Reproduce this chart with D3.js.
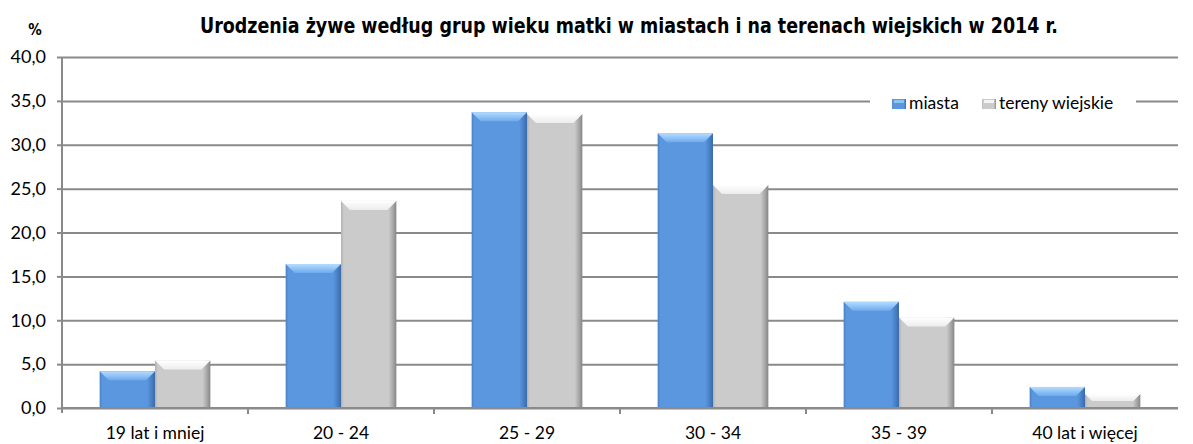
<!DOCTYPE html>
<html>
<head>
<meta charset="utf-8">
<script src="https://cdn.jsdelivr.net/npm/d3@7"></script>
<style>
  body { margin: 0; background: #fff; }
  svg { display: block; }
</style>
</head>
<body>
<script>
// chart data
var categories = ["19 lat i mniej", "20 - 24", "25 - 29", "30 - 34", "35 - 39", "40 lat i więcej"];
var seriesNames = ["miasta", "tereny wiejskie"];
var miasta = [4.2, 16.4, 33.7, 31.3, 12.1, 2.4];
var tereny = [5.4, 23.6, 33.5, 25.4, 10.3, 1.6];
var yTicks = [0, 5, 10, 15, 20, 25, 30, 35, 40];

var width = 1193, height = 444;
// plot area (note: "top" is reserved on window, so use other names)
var plotLeft = 62, plotRight = 1178, plotTop = 57, plotBottom = 408;
var labelFont = "Lato, 'Open Sans', sans-serif";

var svg = d3.select("body").append("svg")
  .attr("width", width)
  .attr("height", height);

var defs = svg.append("defs");

// bar gradients (fake 3d bevel)
function hGrad(id, stops) {
  var g = defs.append("linearGradient").attr("id", id)
    .attr("x1", "0").attr("x2", "1").attr("y1", "0").attr("y2", "0");
  stops.forEach(function(s) {
    g.append("stop").attr("offset", s[0]).attr("stop-color", s[1]);
  });
}
hGrad("blueBody", [[0, "#4a80c4"], [0.05, "#5b97de"], [0.86, "#5b97de"], [0.93, "#4a82c8"], [1, "#3a6aa8"]]);
hGrad("grayBody", [[0, "#b0b0b0"], [0.05, "#cbcbcb"], [0.86, "#cbcbcb"], [0.93, "#ababab"], [1, "#868686"]]);
var vb = defs.append("linearGradient").attr("id", "blueTop").attr("x1", 0).attr("x2", 0).attr("y1", 0).attr("y2", 1);
vb.append("stop").attr("offset", 0).attr("stop-color", "#b4dcff");
vb.append("stop").attr("offset", 1).attr("stop-color", "#6eaaee");
var vg = defs.append("linearGradient").attr("id", "grayTop").attr("x1", 0).attr("x2", 0).attr("y1", 0).attr("y2", 1);
vg.append("stop").attr("offset", 0).attr("stop-color", "#ffffff");
vg.append("stop").attr("offset", 1).attr("stop-color", "#ececec");

var x0 = d3.scaleBand().domain(categories).range([plotLeft, plotRight]);
var x1 = d3.scaleBand().domain(seriesNames).range([0, x0.bandwidth()]).paddingInner(0).paddingOuter(0.68);
var y = d3.scaleLinear().domain([0, 40]).range([plotBottom, plotTop]);

var fmt = function(v) { return d3.format(".1f")(v).replace(".", ","); };

// gridlines
svg.append("g")
  .attr("transform", "translate(" + plotLeft + ",0)")
  .call(d3.axisLeft(y).tickValues(yTicks).tickSize(-(plotRight - plotLeft)).tickFormat(""))
  .call(function(g) {
    g.select(".domain").remove();
    g.selectAll("line").attr("stroke", "#8a8a8a").attr("stroke-width", 2);
  });

// y axis
svg.append("g")
  .attr("transform", "translate(" + plotLeft + ",0)")
  .call(d3.axisLeft(y).tickValues(yTicks).tickSize(5).tickPadding(11).tickFormat(fmt))
  .call(function(g) {
    g.select(".domain").attr("stroke", "#8a8a8a").attr("stroke-width", 2)
      .attr("d", "M0," + plotTop + "V" + (plotBottom + 5));
    g.selectAll("line").attr("stroke", "#8a8a8a").attr("stroke-width", 2);
    g.selectAll("text").attr("font-family", labelFont)
      .attr("font-size", 18).attr("fill", "#000");
  });

// bars
var groups = svg.append("g").selectAll("g")
  .data(categories)
  .enter().append("g")
  .attr("transform", function(d) { return "translate(" + x0(d) + ",0)"; });

var bars = groups.selectAll("g.bar")
  .data(function(d, i) {
    return [{s: "miasta", v: miasta[i]}, {s: "tereny wiejskie", v: tereny[i]}];
  })
  .enter().append("g").attr("class", "bar");

bars.append("rect")
  .attr("x", function(d) { return x1(d.s); })
  .attr("y", function(d) { return y(d.v); })
  .attr("width", x1.bandwidth())
  .attr("height", function(d) { return plotBottom - y(d.v); })
  .attr("fill", function(d) { return d.s === "miasta" ? "url(#blueBody)" : "url(#grayBody)"; });

// top bevel
bars.append("path")
  .attr("d", function(d) {
    var xa = x1(d.s), w = x1.bandwidth(), yt = y(d.v);
    var b = Math.min(9, (plotBottom - yt) / 2);
    return "M" + xa + "," + yt + "H" + (xa + w) + "L" + (xa + w - b) + "," + (yt + b) +
      "H" + (xa + b) + "Z";
  })
  .attr("fill", function(d) { return d.s === "miasta" ? "url(#blueTop)" : "url(#grayTop)"; });

// x axis
svg.append("g")
  .attr("transform", "translate(0," + plotBottom + ")")
  .call(d3.axisBottom(x0).tickSize(0).tickPadding(19))
  .call(function(g) {
    g.select(".domain").attr("stroke", "#8a8a8a").attr("stroke-width", 2)
      .attr("d", "M" + plotLeft + ",0H" + plotRight);
    g.selectAll("text").attr("font-family", labelFont)
      .attr("font-size", 17.5).attr("fill", "#000");
  });

// category boundary ticks
svg.append("g").selectAll("line")
  .data(categories.slice(1))
  .enter().append("line")
  .attr("x1", function(d) { return x0(d); })
  .attr("x2", function(d) { return x0(d); })
  .attr("y1", plotBottom)
  .attr("y2", plotBottom + 6)
  .attr("stroke", "#8a8a8a")
  .attr("stroke-width", 2);

// legend
var legend = svg.append("g");
legend.append("rect")
  .attr("x", 870).attr("y", 88).attr("width", 266).attr("height", 26)
  .attr("fill", "#fff");
var legItems = [
  {name: seriesNames[0], x: 892, fill: "url(#blueBody)", tint: "#8cc4f6"},
  {name: seriesNames[1], x: 982, fill: "url(#grayBody)", tint: "#f4f4f4"}
];
legItems.forEach(function(it) {
  legend.append("rect").attr("x", it.x).attr("y", 99).attr("width", 14).attr("height", 10)
    .attr("fill", it.fill);
  legend.append("rect").attr("x", it.x + 2).attr("y", 100).attr("width", 10).attr("height", 3)
    .attr("fill", it.tint);
  legend.append("text").attr("x", it.x + 17).attr("y", 109)
    .attr("font-family", labelFont).attr("font-size", 17.5)
    .text(it.name);
});

// title
svg.append("text")
  .attr("x", 629).attr("y", 33)
  .attr("text-anchor", "middle")
  .attr("font-family", "'Liberation Sans Narrow', 'DejaVu Sans Condensed', sans-serif")
  .attr("font-weight", "bold")
  .attr("font-size", 22)
  .attr("textLength", 858)
  .attr("lengthAdjust", "spacingAndGlyphs")
  .text("Urodzenia żywe według grup wieku matki w miastach i na terenach wiejskich w 2014 r.");

svg.append("text")
  .attr("x", 35).attr("y", 35)
  .attr("text-anchor", "middle")
  .attr("font-family", "'Liberation Sans Narrow', 'DejaVu Sans Condensed', sans-serif")
  .attr("font-weight", "bold")
  .attr("font-size", 15)
  .text("%");
</script>
</body>
</html>
